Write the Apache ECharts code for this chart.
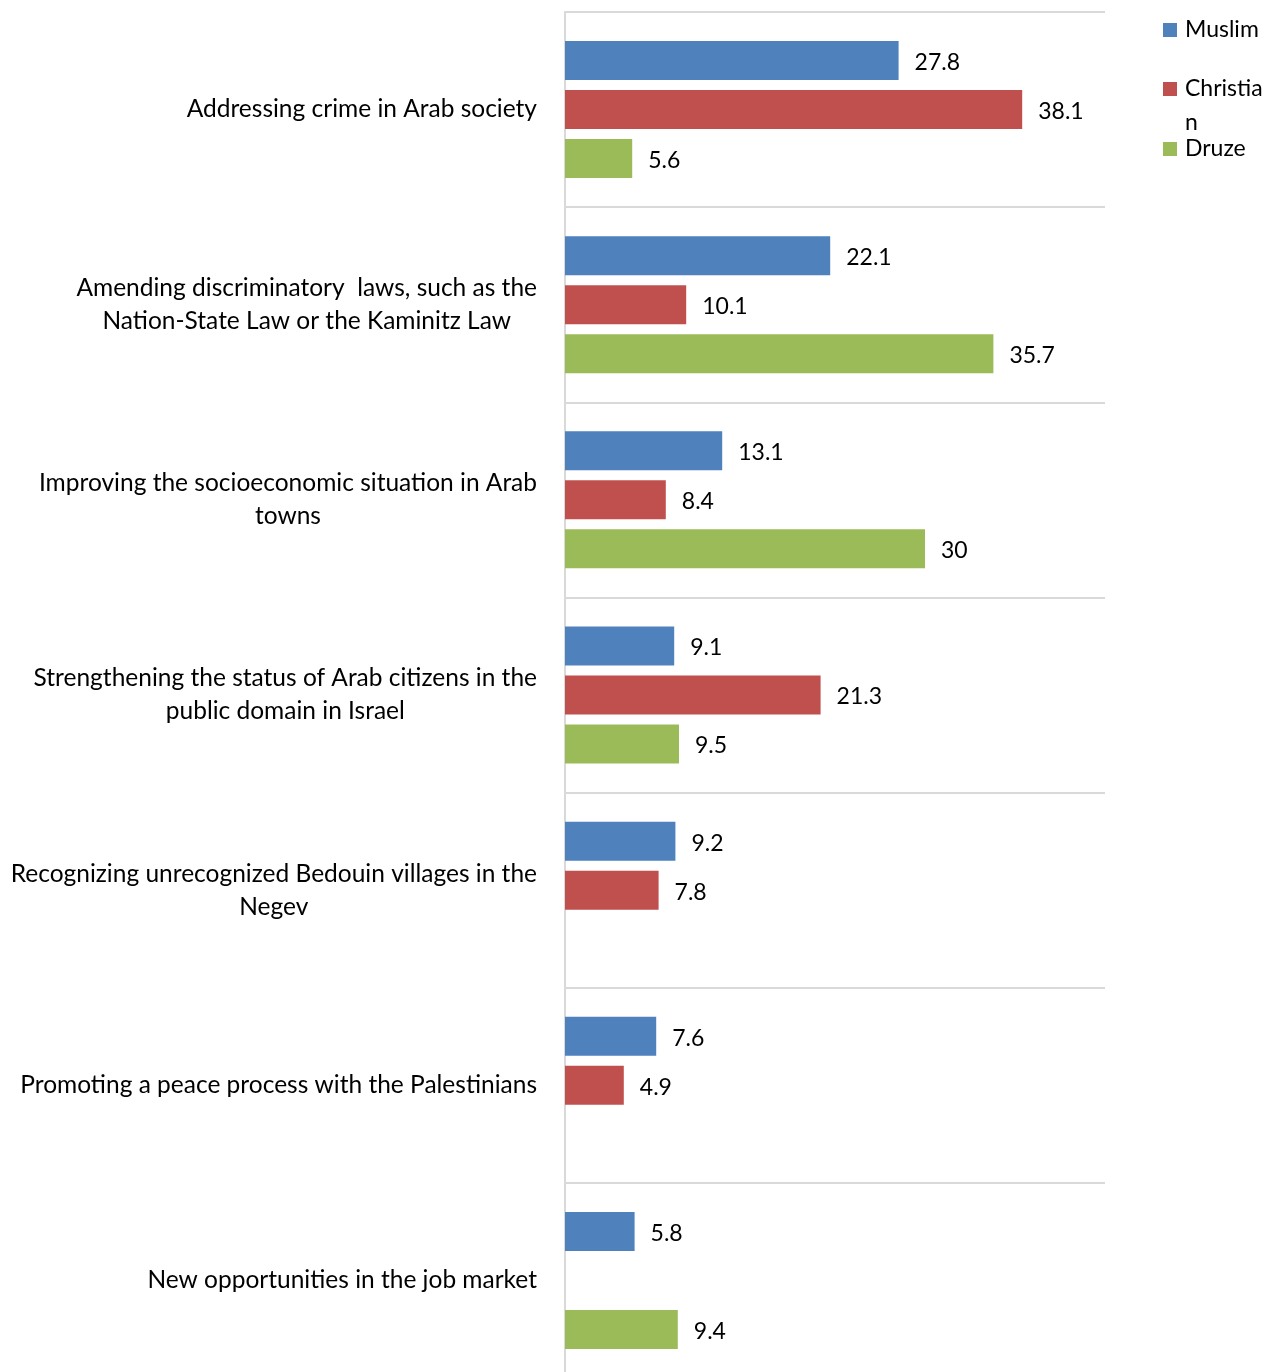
<!DOCTYPE html>
<html><head><meta charset="utf-8">
<script src="https://cdn.jsdelivr.net/npm/echarts@6/dist/echarts.min.js"></script>
<style>html,body{margin:0;padding:0;background:#fff}#c{width:1275px;height:1372px}</style>
</head><body><div id="c"></div>
<script>
const categories = [
  'Addressing crime in Arab society',
  'Amending discriminatory  laws, such as the\nNation-State Law or the Kaminitz Law',
  'Improving the socioeconomic situation in Arab\ntowns',
  'Strengthening the status of Arab citizens in the\npublic domain in Israel',
  'Recognizing unrecognized Bedouin villages in the\nNegev',
  'Promoting a peace process with the Palestinians',
  'New opportunities in the job market'
];
const muslim = [27.8, 22.1, 13.1, 9.1, 9.2, 7.6, 5.8];
const christian = [38.1, 10.1, 8.4, 21.3, 7.8, 4.9, null];
const druze = [5.6, 35.7, 30, 9.5, null, null, 9.4];
const seriesNames = ['Muslim', 'Christian', 'Druze'];
const legendLabels = ['Muslim', '\nChristia\nn', 'Druze'];
const valueMax = 45;

const FONT = 'Lato';
const colors = ['#4F81BD', '#C0504D', '#9BBB59'];
const chart = echarts.init(document.getElementById('c'), null, {renderer: 'canvas'});

const seriesData = [muslim, christian, druze];
const legendTops = [15, 38, 134];
const legendLineHeights = [30, 34, 30];
const legendFont = 23;

const legends = seriesNames.map((n, i) => ({
  data: [n],
  orient: 'vertical',
  left: 1163,
  top: legendTops[i],
  padding: 0,
  itemWidth: 14,
  itemHeight: 14,
  icon: 'rect',
  formatter: () => legendLabels[i],
  textStyle: {fontFamily: FONT, fontSize: legendFont, color: '#000', lineHeight: legendLineHeights[i], padding: [0, 0, 0, 3]}
}));

chart.setOption({
  animation: false,
  backgroundColor: '#fff',
  color: colors,
  legend: legends,
  grid: {left: 565, top: 12, width: 540, height: 1366, containLabel: false, outerBoundsMode: 'none'},
  xAxis: {type: 'value', min: 0, max: valueMax, show: false},
  yAxis: {
    type: 'category',
    inverse: true,
    data: categories,
    axisTick: {show: false},
    axisLine: {show: true, lineStyle: {color: '#d9d9d9', width: 2}},
    splitLine: {show: true, interval: 0, lineStyle: {color: '#d9d9d9', width: 2}},
    axisLabel: {
      interval: 0,
      margin: 28,
      align: 'right',
      formatter: v => v.split('\n').map(l => '{c|' + l + '}').join('\n'),
      rich: {c: {align: 'center', fontFamily: FONT, fontSize: 24.5, lineHeight: 33, color: '#000'}}
    }
  },
  series: seriesData.map((d, i) => ({
    name: seriesNames[i],
    type: 'bar',
    data: d,
    barWidth: 39,
    barGap: '25.6%',
    itemStyle: {color: colors[i]},
    label: {show: true, position: 'right', distance: 16, offset: [0, 2], fontFamily: FONT, fontSize: 23, color: '#000'}
  }))
});
</script>
</body></html>
